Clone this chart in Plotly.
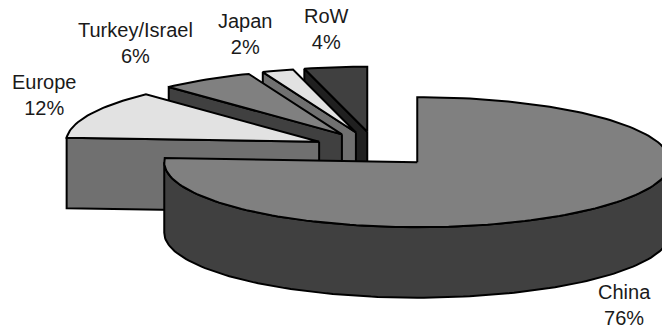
import math
import plotly.graph_objects as go

# Shares listed clockwise from twelve o'clock
regions = ["China", "Europe", "Turkey/Israel", "Japan", "RoW"]
shares = [76, 12, 6, 2, 4]
top_colors = ["#808080", "#e2e2e2", "#808080", "#e2e2e2", "#404040"]
side_colors = ["#404040", "#707070", "#404040", "#707070", "#202020"]

# Label anchors in canvas pixels
label_x = [624, 44, 135, 245, 326]
label_y = [305, 95, 43, 34, 29]

# Projection of the tilted pie onto the canvas
WIDTH, HEIGHT = 662, 331
CENTER_X, CENTER_Y = 375, 149.3
RADIUS_X, RADIUS_Y = 253, 65
DEPTH = 70.5
EXPLODE_X, EXPLODE_Y = 0.244, 0.272
OUTLINE = "#000000"


def project(angle, ox, oy, rx=1.0, ry=1.0):
    a = math.radians(angle)
    return ox + rx * RADIUS_X * math.sin(a), oy - ry * RADIUS_Y * math.cos(a)


def arc(start, end, ox, oy):
    steps = max(2, int(abs(end - start) / 1.5))
    return [project(start + (end - start) * i / steps, ox, oy) for i in range(steps + 1)]


def polygon(points, color):
    xs = [p[0] for p in points] + [points[0][0]]
    ys = [p[1] for p in points] + [points[0][1]]
    return go.Scatter(
        x=xs, y=ys, mode="lines", fill="toself", fillcolor=color,
        line=dict(color=OUTLINE, width=2), hoverinfo="skip", showlegend=False,
    )


def drop(points):
    return [(x, y + DEPTH) for x, y in points]


# Start and end angle for every wedge
total = sum(shares)
wedges = []
running = 0.0
for share in shares:
    begin = running / total * 360
    running += share
    wedges.append((begin, running / total * 360))

fig = go.Figure()

# Paint from the back of the pie towards the viewer
for i in [4, 3, 2, 1, 0]:
    start, end = wedges[i]
    apex = project((start + end) / 2, CENTER_X, CENTER_Y, EXPLODE_X, EXPLODE_Y)
    ox, oy = apex

    # Cut faces that turn towards the viewer
    if math.sin(math.radians(start)) < -1e-9:
        edge = [apex, project(start, ox, oy)]
        fig.add_trace(polygon(edge + drop(edge)[::-1], side_colors[i]))
    if math.sin(math.radians(end)) > 1e-9:
        edge = [apex, project(end, ox, oy)]
        fig.add_trace(polygon(edge + drop(edge)[::-1], side_colors[i]))

    # Curved wall along the front half of the rim
    wall_start, wall_end = max(start, 90), min(end, 270)
    if wall_end > wall_start:
        rim = arc(wall_start, wall_end, ox, oy)
        fig.add_trace(polygon(rim + drop(rim)[::-1], side_colors[i]))

    # Top surface
    fig.add_trace(polygon([apex] + arc(start, end, ox, oy), top_colors[i]))

for name, share, x, y in zip(regions, shares, label_x, label_y):
    fig.add_annotation(
        x=x, y=y, text=f"{name}<br>{share}%", showarrow=False,
        xanchor="center", yanchor="middle", align="center",
        font=dict(family="Liberation Sans, Arial, sans-serif", size=20, color="#1a1a1a"),
    )

fig.update_xaxes(range=[0, WIDTH], visible=False, fixedrange=True)
fig.update_yaxes(range=[HEIGHT, 0], visible=False, fixedrange=True)
fig.update_layout(
    width=WIDTH, height=HEIGHT, margin=dict(l=0, r=0, t=0, b=0),
    paper_bgcolor="#ffffff", plot_bgcolor="#ffffff", showlegend=False,
)

fig.write_html("out.html", config={"displayModeBar": False})
